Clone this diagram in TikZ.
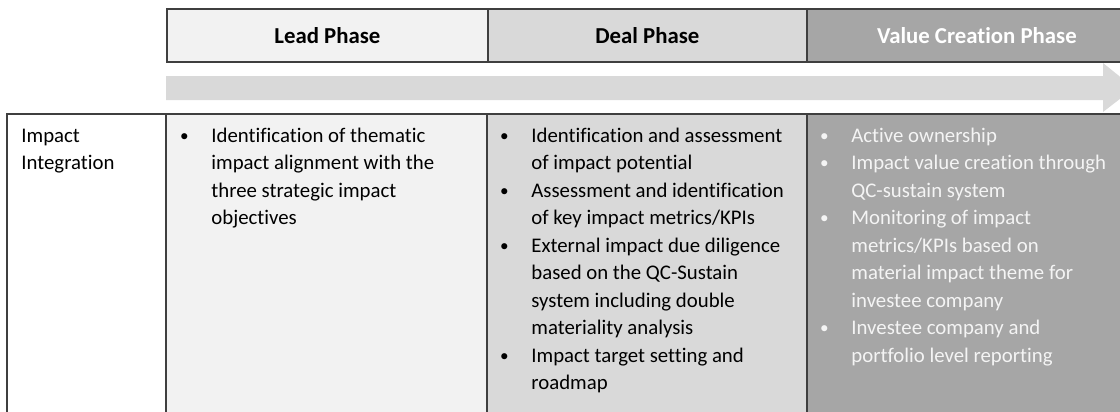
\documentclass[tikz,border=0pt]{standalone}
\usepackage{fontspec}
\setmainfont{Carlito}[Ligatures={NoCommon,NoContextual}]
\usetikzlibrary{positioning}

\definecolor{leadgray}{HTML}{F2F2F2}
\definecolor{dealgray}{HTML}{D9D9D9}
\definecolor{valuegray}{HTML}{A6A6A6}
\definecolor{rulegray}{HTML}{3F3F3F}
\definecolor{valuetext}{HTML}{F4F4F4}

\newcommand{\bodyfont}{\fontsize{10.4}{13.75}\selectfont}
\newcommand{\headfont}{\fontsize{11.4}{13.75}\selectfont\bfseries}
\newcommand{\bul}{\makebox[16pt][l]{\strut\hspace{0.4pt}\raisebox{0.5pt}{\fontsize{8.6}{10}\selectfont\textbullet}}}
\newcommand{\cont}{\hspace*{16pt}}

\tikzset{
  phasebox/.style={rectangle,draw=rulegray,line width=0.9pt,anchor=north west,
    minimum height=26.5pt,inner sep=0pt,font=\headfont},
  cellbox/.style={rectangle,anchor=north west,minimum height=153pt,inner sep=0pt},
  celltext/.style={anchor=north west,inner sep=0pt,align=left,font=\bodyfont},
  rule/.style={draw=rulegray,line width=0.9pt}
}

\begin{document}
\begin{tikzpicture}[x=0.5pt,y=-0.5pt]
        \useasboundingbox (0,0) rectangle (1120,412);
        \clip (0,0) rectangle (1120,412);

        % phase headers
        \node(leadhead) at (166,8) [phasebox,fill=leadgray,minimum width=160.5pt] {Lead Phase};
        \node(dealhead) at (487,8) [phasebox,fill=dealgray,minimum width=159.5pt] {Deal Phase};
        \node(valuehead) at (806,8) [phasebox,fill=valuegray,minimum width=170pt,text=white] {Value Creation Phase};

        % process arrow
        \fill[dealgray] (166,76) -- (1103,76) -- (1103,63) -- (1134,88) -- (1103,112)
            -- (1103,100) -- (166,100) -- cycle;

        % table cells
        \node(impact) at (7,114) [cellbox,fill=white,minimum width=79.5pt] {};
        \node(lead) at (166,114) [cellbox,fill=leadgray,minimum width=160.5pt] {};
        \node(deal) at (487,114) [cellbox,fill=dealgray,minimum width=160pt] {};
        \node(value) at (807,114) [cellbox,fill=valuegray,minimum width=170pt] {};

        \draw [rule] (impact.south west) -- (impact.north west) -- (value.north east);
        \draw [rule] (lead.north west) -- (lead.south west);
        \draw [rule] (deal.north west) -- (deal.south west);
        \draw [rule] (value.north west) -- (value.south west);

        % cell texts
        \node(impacttext) at (21,122.75) [celltext] {\strut Impact\\Integration};
        \node(leadtext) at (179,122.75) [celltext] {\bul Identification of thematic\\
            \cont impact alignment with the\\\cont three strategic impact\\\cont objectives};
        \node(dealtext) at (499,122.75) [celltext] {\bul Identification and assessment\\
            \cont of impact potential\\
            \bul Assessment and identification\\\cont of key impact metrics/KPIs\\
            \bul External impact due diligence\\\cont based on the QC-Sustain\\
            \cont system including double\\\cont materiality analysis\\
            \bul Impact target setting and\\\cont roadmap};
        \node(valuetext) at (819,122.75) [celltext,text=valuetext] {\bul Active ownership\\
            \bul Impact value creation through\\\cont QC-sustain system\\
            \bul Monitoring of impact\\\cont metrics/KPIs based on\\
            \cont material impact theme for\\\cont investee company\\
            \bul Investee company and\\\cont portfolio level reporting};
    \end{tikzpicture}
\end{document}
